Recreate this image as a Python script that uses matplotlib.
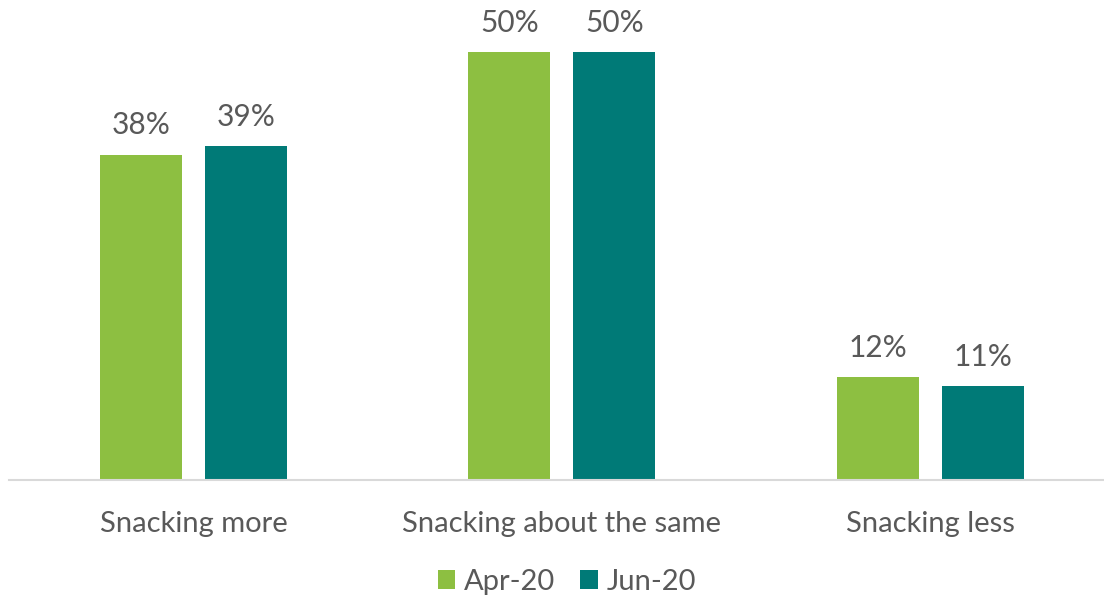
import matplotlib
matplotlib.use("Agg")
import matplotlib.pyplot as plt
import numpy as np

categories = ["Snacking more", "Snacking about the same", "Snacking less"]
series_names = ["Apr-20", "Jun-20"]
apr_values = [38, 50, 12]
jun_values = [39, 50, 11]

colors = ["#8DBF41", "#007A77"]
text_color = "#595959"

plt.rcParams['font.family'] = ['Lato', 'DejaVu Sans']

fig = plt.figure(figsize=(11.04, 5.98), dpi=100)
ax = fig.add_axes([9 / 1104, 118 / 598, 1095 / 1104, 480 / 598])

x = np.arange(len(categories))
width = 0.2225
offset = 0.1425

for vals, name, col, sh in zip([apr_values, jun_values], series_names, colors, [-offset, offset]):
    bars = ax.bar(x + sh, vals, width, color=col, label=name)
    for b, v in zip(bars, vals):
        ax.annotate(f"{v}%", (b.get_x() + b.get_width() / 2, v),
                    xytext=(0, 11), textcoords="offset points",
                    ha="center", va="bottom", fontsize=21.5, color=text_color)

ax.set_xlim(-0.5007, 2.4713)
ax.set_ylim(0, 56.07)
ax.set_xticks(x)
ax.set_xticklabels(categories, fontsize=21, color=text_color)
ax.tick_params(axis="x", length=0, pad=22)
ax.set_yticks([])
for s in ["top", "right", "left"]:
    ax.spines[s].set_visible(False)
ax.spines["bottom"].set_color("#D9D9D9")
ax.spines["bottom"].set_linewidth(1.5)

leg = fig.legend(loc="center", bbox_to_anchor=(567 / 1104, 1 - 582 / 598), ncol=2,
                 frameon=False, fontsize=21, handlelength=0.6, handleheight=0.6,
                 columnspacing=0.85, handletextpad=0.3)
for t in leg.get_texts():
    t.set_color(text_color)

fig.savefig("out.png", dpi=100)
